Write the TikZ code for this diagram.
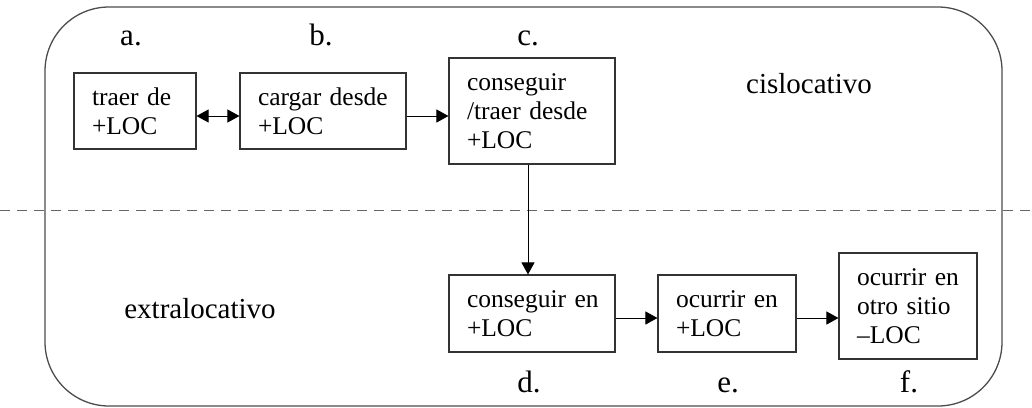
\documentclass[tikz,border=0pt]{standalone}
\usepackage{fontspec}
\setmainfont{Liberation Serif}
\usetikzlibrary{arrows.meta}
\begin{document}
\begin{tikzpicture}[x=1pt,y=-1pt,
  >={Triangle[length=12pt,width=13pt]},
  boxtext/.style={font=\fontsize{25.5}{28.7}\selectfont},
  box/.style={boxtext, draw=black!80, line width=1.1pt, align=left, inner xsep=0pt, inner ysep=0pt},
  arealabel/.style={font=\fontsize{29}{34}\selectfont, anchor=base},
  letterlabel/.style={font=\fontsize{31}{36}\selectfont, anchor=base},
  conn/.style={line width=1pt, draw=black},
  frame/.style={draw=black!70, line width=1.3pt, rounded corners=64pt},
  divider/.style={draw=black!60, line width=1pt, dash pattern=on 10pt off 7pt}]
\useasboundingbox (0,0) rectangle (1032,407);

\draw[frame] (45,7) rectangle (1002,406);
\draw[divider] (0,210) -- (1032,210);

\node[box, minimum width=122pt, minimum height=76pt, text width=86pt] (a) at (135,111) {traer~de\\+LOC};
\node[box, minimum width=166pt, minimum height=76pt, text width=130pt] (b) at (323,111) {cargar~desde\\+LOC};
\node[box, minimum width=166pt, minimum height=106pt, text width=130pt] (c) at (532,111) {conseguir\\/traer~desde\\+LOC};
\node[box, minimum width=166pt, minimum height=77pt, text width=130pt] (d) at (532,313.5) {conseguir~en\\+LOC};
\node[box, minimum width=138pt, minimum height=77pt, text width=102pt] (e) at (727,313.5) {ocurrir~en\\+LOC};
\node[box, minimum width=138pt, minimum height=106pt, text width=102pt] (f) at (908,306) {ocurrir~en\\otro~sitio\\–LOC};

\node[letterlabel] (la) at (131,45) {a.};
\node[letterlabel] (lb) at (321,45) {b.};
\node[letterlabel] (lc) at (528,45) {c.};
\node[letterlabel] (ld) at (529,392) {d.};
\node[letterlabel] (le) at (728,392) {e.};
\node[letterlabel] (lf) at (909,392) {f.};

\node[arealabel] (cis) at (809,93) {cislocativo};
\node[arealabel] (extra) at (200,318) {extralocativo};

\draw[conn,<->] ([yshift=-5pt]a.east) -- ([yshift=-5pt]b.west);
\draw[conn,->] ([yshift=-5pt]b.east) -- ([yshift=-5pt]c.west);
\draw[conn,->] ([xshift=-4pt]c.south) -- ([xshift=-4pt]d.north);
\draw[conn,->] ([yshift=-4.5pt]d.east) -- ([yshift=-4.5pt]e.west);
\draw[conn,->] ([yshift=-4.5pt]e.east) -- ([yshift=-4.5pt]e.east -| f.west);
\end{tikzpicture}
\end{document}
